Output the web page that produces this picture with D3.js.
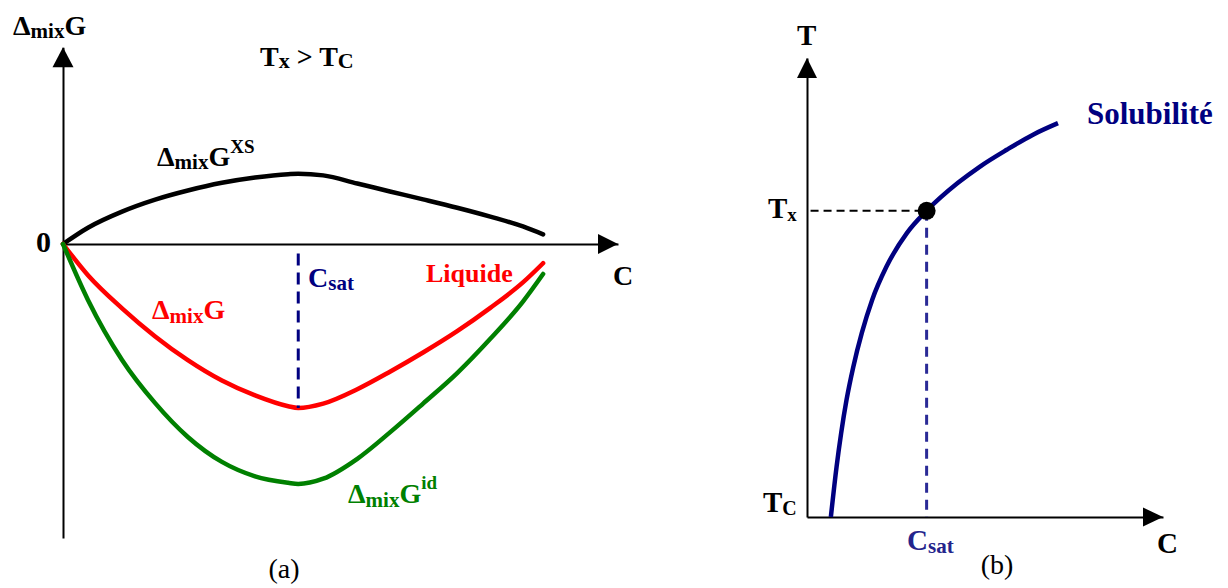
<!DOCTYPE html>
<html>
<head>
<meta charset="utf-8">
<script src="https://cdn.jsdelivr.net/npm/d3@7"></script>
<style>
  body { margin: 0; background: #fff; }
  svg { display: block; font-family: "Liberation Serif", "Times New Roman", serif; font-weight: bold; }
</style>
</head>
<body>
<script>
// (a) enthalpie libre de mélange, C en % de l'axe, G en unités arbitraires
const cL = [0, 5.2, 12.3, 19.2, 26, 33.1, 40, 46.9, 49, 54.2, 61.3, 68.1, 75, 82.1, 89, 95.8, 100]
const gXS = [0, 6.8, 13.5, 18.5, 22.3, 25.5, 27.7, 29.1, 29.3, 28.6, 25.2, 21.9, 18.6, 15.1, 11.4, 7.3, 4.0]
const gMix = [0, -13, -26.8, -38.5, -48.4, -56.9, -63.1, -67.6, -68.3, -66.5, -60.5, -53.2, -45.2, -36.3, -26.6, -16.0, -8.0]
const gId = [0, -23.3, -48.3, -66.3, -80.4, -90.8, -96.8, -99.5, -100, -97.8, -89.5, -78.5, -66.5, -53.8, -39.5, -24.0, -12.5]
const cSatL = 49

// (b) courbe de solubilité
const cR = [6.7, 8.3, 9.6, 11.1, 13.0, 15.4, 18.3, 22.3, 28.1, 33.6, 42.4, 48.5, 56.1, 63.5, 70.5]
const tR = [0, 10.9, 18.3, 25.5, 32.7, 40.1, 47.3, 54.5, 61.9, 66.7, 72.8, 76.3, 80, 83.3, 85.8]
const cSatR = 33.6
const tX = 66.7

const svg = d3.select("body").append("svg")
    .attr("width", 1228)
    .attr("height", 588)

// ---------- panneau (a) ----------
const xL = d3.scaleLinear().domain([0, 115.6]).range([63, 618])
const yL = d3.scaleLinear().domain([-100, 0]).range([484, 244])
const yLaxe = d3.scaleLinear().domain([-122.5, 82]).range([yL(-122.5), yL(82)])

const gA = svg.append("g")

// axes sans graduations
gA.append("g")
    .attr("transform", "translate(0," + yL(0) + ")")
    .call(d3.axisBottom(xL).tickValues([]).tickSizeOuter(0))
gA.append("g")
    .attr("transform", "translate(" + xL(0) + ",0)")
    .call(d3.axisLeft(yLaxe).tickValues([]).tickSizeOuter(0))
gA.selectAll(".domain").attr("stroke", "#000").attr("stroke-width", 2)

function fleche(g, tip, dir, half, len) {
    let pts
    if (dir == "up") pts = [[tip[0], tip[1]], [tip[0] - half, tip[1] + len], [tip[0] + half, tip[1] + len]]
    else pts = [[tip[0], tip[1]], [tip[0] - len, tip[1] - half], [tip[0] - len, tip[1] + half]]
    g.append("path").attr("d", "M" + pts.join("L") + "Z").attr("fill", "#000")
}
fleche(gA, [xL(115.6), yL(0)], "right", 10, 20)
fleche(gA, [xL(0), yLaxe(82)], "up", 10.5, 20)

const ligneL = d3.line()
    .x(d => xL(d[0]))
    .y(d => yL(d[1]))
    .curve(d3.curveMonotoneX)

const courbes = [
    {g: gXS, couleur: "#000000"},
    {g: gMix, couleur: "#ff0000"},
    {g: gId, couleur: "#008000"}
]
courbes.forEach(function (s) {
    gA.append("path")
        .datum(cL.map((c, i) => [c, s.g[i]]))
        .attr("fill", "none")
        .attr("stroke", s.couleur)
        .attr("stroke-width", 4.5)
        .attr("stroke-linecap", "round")
        .attr("d", ligneL)
})

gA.append("line")
    .attr("x1", xL(cSatL)).attr("x2", xL(cSatL))
    .attr("y1", yL(-4)).attr("y2", yL(d3.min(gMix)))
    .attr("stroke", "#000080")
    .attr("stroke-width", 3)
    .attr("stroke-dasharray", "12,7")

// texte avec indices / exposants
function label(g, x, y, parts, couleur, taille, anchor) {
    const t = g.append("text")
        .attr("x", x).attr("y", y)
        .attr("fill", couleur || "#000")
        .attr("font-size", taille || 28)
        .attr("text-anchor", anchor || "start")
    let shift = 0
    parts.forEach(function (p) {
        const off = p.dy || 0
        t.append("tspan")
            .attr("dy", off - shift)
            .attr("font-size", p.s || null)
            .text(p.t)
        shift = off
    })
    return t
}

label(gA, 13, 35, [{t: "Δ"}, {t: "mix", s: 21, dy: 3}, {t: "G"}])
label(gA, 260, 66, [{t: "T"}, {t: "x", s: 22, dy: 2}, {t: "  >  "}, {t: "T"}, {t: "C", s: 22, dy: 2}])
label(gA, 36, 252, [{t: "0"}], "#000", 30)
label(gA, 157, 166, [{t: "Δ"}, {t: "mix", s: 21, dy: 3}, {t: "G"}, {t: "XS", s: 19, dy: -13}])
label(gA, 152, 319, [{t: "Δ"}, {t: "mix", s: 21, dy: 4}, {t: "G"}], "#ff0000")
label(gA, 348, 503, [{t: "Δ"}, {t: "mix", s: 21, dy: 4}, {t: "G"}, {t: "id", s: 19, dy: -14}], "#008000")
label(gA, 308, 287, [{t: "C"}, {t: "sat", s: 21, dy: 3}], "#000080")
label(gA, 426, 282, [{t: "Liquide"}], "#ff0000", 26)
label(gA, 613, 285, [{t: "C"}], "#000", 28)
gA.append("text")
    .attr("x", 284).attr("y", 578)
    .attr("text-anchor", "middle")
    .attr("font-size", 28)
    .attr("font-weight", "normal")
    .text("(a)")

// ---------- panneau (b) ----------
const xR = d3.scaleLinear().domain([0, 100]).range([807, 1163])
const yR = d3.scaleLinear().domain([0, 100]).range([517, 58])

const gB = svg.append("g")
gB.append("g")
    .attr("transform", "translate(0," + yR(0) + ")")
    .call(d3.axisBottom(xR).tickValues([]).tickSizeOuter(0))
gB.append("g")
    .attr("transform", "translate(" + xR(0) + ",0)")
    .call(d3.axisLeft(yR).tickValues([]).tickSizeOuter(0))
gB.selectAll(".domain").attr("stroke", "#000").attr("stroke-width", 2)
fleche(gB, [xR(100), yR(0)], "right", 9.5, 20)
fleche(gB, [xR(0), yR(100)], "up", 10, 20)

// pointillés
gB.append("line")
    .attr("x1", xR(1)).attr("x2", xR(cSatR))
    .attr("y1", yR(tX)).attr("y2", yR(tX))
    .attr("stroke", "#000")
    .attr("stroke-width", 2)
    .attr("stroke-dasharray", "8,5")
gB.append("line")
    .attr("x1", xR(cSatR)).attr("x2", xR(cSatR))
    .attr("y1", yR(tX)).attr("y2", yR(0))
    .attr("stroke", "#2a2a96")
    .attr("stroke-width", 3)
    .attr("stroke-dasharray", "10,7")

const ligneR = d3.line()
    .x(d => xR(d[0]))
    .y(d => yR(d[1]))
    .curve(d3.curveMonotoneX)

gB.append("path")
    .datum(cR.map((c, i) => [c, tR[i]]))
    .attr("fill", "none")
    .attr("stroke", "#000080")
    .attr("stroke-width", 4.5)
    .attr("d", ligneR)

gB.append("circle")
    .attr("cx", xR(cSatR)).attr("cy", yR(tX))
    .attr("r", 9)
    .attr("fill", "#000")

label(gB, 797, 45, [{t: "T"}], "#000", 29)
label(gB, 768, 218, [{t: "T"}, {t: "x", s: 19, dy: 3}], "#000", 29)
label(gB, 763, 512, [{t: "T"}, {t: "C", s: 20, dy: 3}], "#000", 29)
label(gB, 1087, 124, [{t: "Solubilité"}], "#000080", 31)
label(gB, 907, 550, [{t: "C"}, {t: "sat", s: 21, dy: 3}], "#24248c", 29)
label(gB, 1157, 553, [{t: "C"}], "#000", 29)
gB.append("text")
    .attr("x", 997).attr("y", 574)
    .attr("text-anchor", "middle")
    .attr("font-size", 28)
    .attr("font-weight", "normal")
    .text("(b)")
</script>
</body>
</html>
